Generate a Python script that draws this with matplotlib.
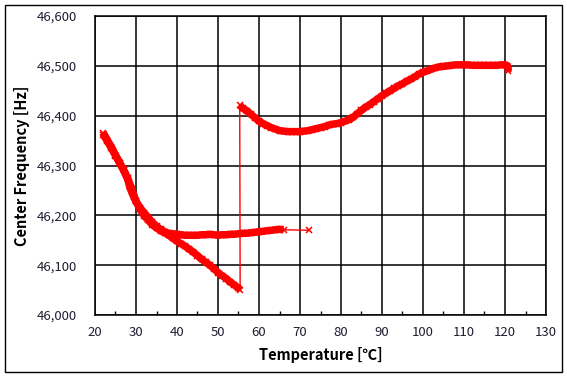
import matplotlib
matplotlib.use("Agg")
import matplotlib.pyplot as plt
from matplotlib.ticker import FuncFormatter, MultipleLocator
from matplotlib.patches import Rectangle

plt.rcParams['font.family'] = ['Noto Sans CJK KR', 'DejaVu Sans']

# Measurement sequence (temperature in degC, centre frequency in Hz), in time order
# start point, then cooling from 72 down to 22 degC
cool_temp = [72.3, 66, 65, 64, 63, 62, 61, 60, 59, 58, 57, 56, 55, 54, 53, 52, 51, 50,
             49, 48, 47, 46, 45, 44, 43, 42, 41, 40, 39, 38, 37, 36, 35, 34, 33, 32,
             31, 30, 29.5, 29, 28.5, 28, 27, 26, 25, 24, 23, 22]
cool_freq = [46170, 46171, 46172, 46171, 46170, 46169, 46168, 46167, 46166, 46165, 46164,
             46164, 46163, 46162, 46162, 46161, 46161, 46160, 46161, 46162, 46161, 46161,
             46160, 46160, 46160, 46160, 46161, 46162, 46163, 46164, 46167, 46172, 46178,
             46186, 46195, 46205, 46215, 46228, 46236, 46246, 46256, 46272, 46290, 46306,
             46321, 46337, 46351, 46366]
# heating from 22 to 55 degC (lower branch)
heat1_temp = [22, 23, 24, 25, 26, 27, 28, 29, 30, 31, 32, 33, 34, 35, 36, 37, 38, 39, 40,
              41, 42, 43, 44, 45, 46, 47, 48, 49, 50, 51, 52, 53, 54, 55, 55.4]
heat1_freq = [46362, 46349, 46335, 46320, 46305, 46291, 46274, 46252, 46228, 46212, 46199,
              46190, 46181, 46175, 46169, 46165, 46160, 46154, 46148, 46143, 46138, 46132,
              46126, 46119, 46112, 46106, 46100, 46093, 46085, 46079, 46073, 46066, 46060,
              46054, 46050]
# heating from 55 to 121 degC (upper branch)
heat2_temp = [55.3, 56, 57, 58, 59, 60, 61, 62, 63, 64, 65, 66, 67, 68, 69, 70, 71, 72, 73,
              74, 75, 76, 77, 78, 79, 80, 81, 82, 83, 84, 85, 86, 87, 88, 89, 90, 91, 92,
              93, 94, 95, 96, 97, 98, 99, 100, 101, 102, 103, 104, 105, 106, 107, 108, 109,
              110, 111, 112, 113, 114, 115, 116, 117, 118, 119, 120, 120.6, 120.8, 120.7]
heat2_freq = [46421, 46415, 46410, 46403, 46396, 46389, 46384, 46380, 46376, 46373, 46370,
              46369, 46368, 46368, 46368, 46368, 46369, 46370, 46372, 46374, 46376, 46378,
              46381, 46383, 46384, 46386, 46389, 46392, 46397, 46404, 46411, 46417, 46422,
              46428, 46434, 46440, 46445, 46450, 46455, 46460, 46464, 46469, 46473, 46478,
              46483, 46487, 46490, 46493, 46496, 46498, 46499, 46500, 46501, 46502, 46502,
              46502, 46502, 46501, 46501, 46501, 46501, 46501, 46501, 46501, 46502,
              46502, 46500, 46494, 46490]

temps = cool_temp + heat1_temp + heat2_temp
freqs = cool_freq + heat1_freq + heat2_freq

x_ticks = list(range(20, 131, 10))
y_ticks = list(range(46000, 46601, 100))

RED = '#ff0000'

fig = plt.figure(figsize=(5.67, 3.77), dpi=100)
fig.patches.append(Rectangle((5 / 567, 1 - 372 / 377), 557 / 567, 367 / 377,
                             transform=fig.transFigure, fill=False,
                             edgecolor='black', linewidth=1.0))
ax = fig.add_axes([95 / 567, 1 - 315 / 377, (546 - 95) / 567, (315 - 16) / 377])

# densely sampled stretches appear as a thick band of overlapping markers
band_kw = dict(color=RED, linewidth=5.4, solid_capstyle='butt', solid_joinstyle='round')
ax.plot(cool_temp[1:], cool_freq[1:], **band_kw)
ax.plot(heat1_temp, heat1_freq, **band_kw)
ax.plot(heat2_temp, heat2_freq, **band_kw)
# the whole sequence: thin connecting line with small x markers
ax.plot(temps, freqs, color=RED, linewidth=1.0, marker='x',
        markersize=5, markeredgewidth=1.1)

ax.set_xlim(20, 130)
ax.set_ylim(46000, 46600)
ax.set_xticks(x_ticks)
ax.set_yticks(y_ticks)
ax.xaxis.set_minor_locator(MultipleLocator(5))
ax.yaxis.set_major_formatter(FuncFormatter(lambda v, p: f"{int(v):,}"))
ax.grid(True, which='major', color='black', linewidth=1.1)
ax.set_axisbelow(True)
for s in ax.spines.values():
    s.set_linewidth(1.1)
ax.tick_params(axis='x', which='major', length=0, labelsize=9.5, colors='black',
               labelcolor='#1e1e32', pad=8)
ax.tick_params(axis='x', which='minor', direction='in', length=3, width=1)
ax.tick_params(axis='y', which='major', length=0, labelsize=9.5, labelcolor='#1e1e32',
               pad=13)

ax.set_xlabel('Temperature [℃]', fontsize=10.5, fontweight='bold', labelpad=6)
ax.set_ylabel('Center Frequency [Hz]', fontsize=10.5, fontweight='bold', labelpad=5)

fig.savefig('out.png', dpi=100)
